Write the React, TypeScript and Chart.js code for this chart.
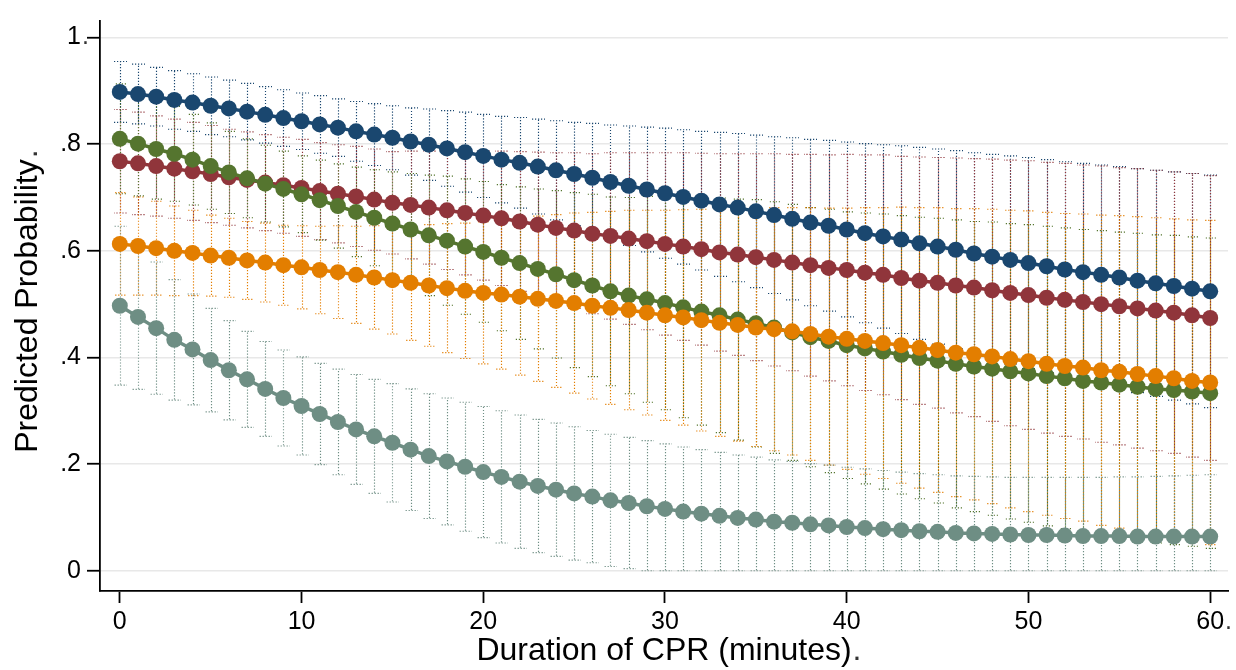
import React, { useEffect, useRef } from "react";
import { Chart, registerables } from "chart.js";

Chart.register(...registerables);

// Duration of CPR (minutes), x categories
const minutes = [
  0, 1, 2, 3, 4, 5, 6, 7, 8, 9, 10, 11, 12, 13, 14, 15, 16, 17, 18, 19, 20,
  21, 22, 23, 24, 25, 26, 27, 28, 29, 30, 31, 32, 33, 34, 35, 36, 37, 38, 39, 40,
  41, 42, 43, 44, 45, 46, 47, 48, 49, 50, 51, 52, 53, 54, 55, 56, 57, 58, 59, 60,
];

// Predicted probabilities (margins) and 95% CI half-widths
const navyMean = [
  .898, .894, .889, .883, .878, .872, .867, .861, .855, .849,
  .843, .837, .831, .824, .818, .812, .805, .799, .792, .785,
  .778, .771, .765, .758, .751, .744, .737, .729, .722, .715,
  .708, .701, .694, .687, .681, .674, .667, .660, .653, .647,
  .640, .633, .627, .621, .614, .608, .602, .595, .589, .583,
  .577, .571, .565, .560, .555, .550, .544, .539, .534, .529, .524,
];
const navyCI = [
  .057, .056, .055, .055, .054, .054, .053, .053, .053, .053,
  .053, .054, .054, .056, .058, .060, .063, .067, .071, .075,
  .078, .081, .085, .089, .093, .097, .102, .107, .112, .117,
  .122, .126, .130, .135, .139, .143, .147, .152, .156, .160,
  .164, .168, .172, .176, .180, .183, .186, .189, .192, .195,
  .198, .200, .202, .204, .206, .208, .210, .212, .214, .216, .218,
];

const maroonMean = [
  .768, .764, .759, .754, .749, .744, .738, .733, .728, .723,
  .718, .712, .707, .702, .696, .690, .686, .681, .676, .671,
  .666, .661, .655, .649, .643, .638, .632, .628, .623, .618,
  .613, .608, .603, .597, .593, .588, .583, .578, .573, .568,
  .564, .559, .555, .549, .544, .540, .535, .531, .526, .521,
  .517, .512, .508, .504, .500, .496, .492, .488, .484, .479, .474,
];
const maroonCI = [
  .097, .096, .094, .093, .092, .091, .090, .090, .090, .090,
  .091, .091, .092, .094, .095, .096, .101, .106, .111, .116,
  .121, .126, .131, .136, .141, .146, .150, .156, .161, .166,
  .171, .176, .180, .185, .189, .194, .199, .203, .208, .212,
  .217, .221, .225, .228, .232, .235, .239, .242, .246, .249,
  .252, .254, .256, .257, .259, .260, .262, .263, .264, .266, .267,
];

const greenMean = [
  .810, .801, .791, .782, .771, .759, .747, .736, .726, .716,
  .706, .695, .684, .673, .662, .651, .640, .629, .619, .608,
  .598, .587, .577, .566, .556, .545, .535, .524, .516, .509,
  .502, .494, .486, .479, .471, .464, .456, .447, .438, .431,
  .423, .417, .411, .405, .399, .394, .388, .383, .379, .374,
  .370, .365, .361, .356, .353, .349, .345, .341, .339, .336, .333,
];
const greenCI = [
  .103, .098, .094, .089, .085, .081, .077, .074, .072, .071,
  .072, .075, .079, .084, .090, .097, .105, .113, .121, .127,
  .132, .137, .143, .150, .157, .164, .171, .177, .184, .193,
  .200, .207, .213, .220, .226, .232, .236, .240, .243, .247,
  .250, .254, .258, .261, .264, .267, .270, .272, .275, .277,
  .279, .281, .282, .284, .285, .286, .288, .289, .290, .290, .291,
];

const orangeMean = [
  .613, .609, .605, .600, .596, .591, .587, .582, .578, .573,
  .569, .564, .560, .555, .550, .545, .540, .535, .530, .525,
  .521, .518, .514, .510, .506, .502, .497, .493, .489, .484,
  .479, .475, .470, .465, .461, .456, .453, .449, .444, .439,
  .435, .431, .427, .423, .418, .414, .409, .406, .402, .397,
  .393, .388, .384, .381, .376, .373, .369, .365, .361, .356, .353,
];
const orangeCI = [
  .096, .092, .088, .084, .080, .076, .074, .073, .074, .075,
  .078, .082, .087, .091, .097, .101, .108, .114, .121, .127,
  .133, .140, .147, .155, .162, .169, .175, .181, .187, .192,
  .197, .202, .208, .213, .218, .223, .228, .232, .237, .241,
  .245, .250, .254, .259, .263, .267, .270, .273, .276, .279,
  .282, .284, .286, .288, .291, .293, .295, .297, .299, .302, .304,
];

const tealMean = [
  .497, .476, .455, .433, .415, .395, .376, .359, .341, .324,
  .309, .294, .279, .265, .252, .240, .227, .215, .205, .195,
  .185, .176, .167, .159, .152, .145, .139, .132, .127, .121,
  .116, .111, .107, .103, .099, .096, .092, .090, .087, .085,
  .082, .080, .078, .076, .074, .073, .071, .070, .069, .068,
  .067, .067, .066, .065, .065, .065, .064, .064, .064, .064, .064,
];
const tealCI = [
  .149, .136, .124, .113, .104, .097, .093, .090, .089, .090,
  .092, .095, .099, .103, .107, .111, .114, .117, .119, .121,
  .123, .124, .125, .125, .125, .125, .124, .124, .123, .123,
  .122, .121, .120, .119, .118, .117, .116, .115, .114, .113,
  .112, .111, .110, .109, .108, .107, .107, .107, .107, .107,
  .108, .108, .109, .110, .110, .111, .112, .113, .114, .115, .116,
];

const xTickValues = [0, 10, 20, 30, 40, 50, 60];
const yTickValues = [0, 0.2, 0.4, 0.6, 0.8, 1];
const yTickLabels = ["0", ".2", ".4", ".6", ".8", "1"];
const xTitle = "Duration of CPR (minutes)";
const yTitle = "Predicted Probability";

const series = [
  { name: "Group 1", color: "#1a476f", mean: navyMean, ci: navyCI, order: 5 },
  { name: "Group 2", color: "#90353b", mean: maroonMean, ci: maroonCI, order: 4 },
  { name: "Group 3", color: "#55752f", mean: greenMean, ci: greenCI, order: 3 },
  { name: "Group 4", color: "#e37e00", mean: orangeMean, ci: orangeCI, order: 2 },
  { name: "Group 5", color: "#6e8e84", mean: tealMean, ci: tealCI, order: 1 },
];

const FONT = "'Liberation Sans', Arial, Helvetica, sans-serif";

const ciPlugin = {
  id: "ciBars",
  beforeDatasetsDraw(chart: any) {
    const { ctx, chartArea, scales } = chart;
    const xs = scales.x;
    const ys = scales.y;
    ctx.save();
    ctx.beginPath();
    ctx.rect(chartArea.left, chartArea.top, chartArea.right - chartArea.left, chartArea.bottom - chartArea.top);
    ctx.clip();
    ctx.lineWidth = 1.15;
    ctx.setLineDash([1.2, 1.8]);
    const capHalf = 6.5;
    series.forEach((s, k) => {
      ctx.strokeStyle = s.color;
      ctx.lineDashOffset = k * 0.6;
      for (let i = 0; i < minutes.length; i++) {
        const xp = Math.round(xs.getPixelForValue(minutes[i])) + 0.5;
        const lo = Math.max(0, s.mean[i] - s.ci[i]);
        const hi = s.mean[i] + s.ci[i];
        const yl = ys.getPixelForValue(lo);
        const yh = ys.getPixelForValue(hi);
        ctx.beginPath();
        ctx.moveTo(xp, yl);
        ctx.lineTo(xp, yh);
        ctx.stroke();
        ctx.beginPath();
        ctx.moveTo(xp - capHalf, yl);
        ctx.lineTo(xp + capHalf, yl);
        ctx.moveTo(xp - capHalf, yh);
        ctx.lineTo(xp + capHalf, yh);
        ctx.stroke();
      }
    });
    ctx.restore();
  },
};

const periodPlugin = {
  id: "trailingPeriods",
  afterDraw(chart: any) {
    const { ctx, scales } = chart;
    const xs = scales.x;
    const ys = scales.y;
    ctx.save();
    ctx.fillStyle = "#333";
    const yItems = ys.getLabelItems ? ys.getLabelItems() : [];
    for (const it of yItems) {
      if (it.label === "1") {
        ctx.font = it.font.string;
        ctx.textAlign = "left";
        ctx.textBaseline = it.options.textBaseline;
        const [tx, ty] = it.options.translation;
        ctx.fillText(".", tx + 1, ty + it.textOffset);
      }
    }
    const xItems = xs.getLabelItems ? xs.getLabelItems() : [];
    for (const it of xItems) {
      if (it.label === "60") {
        ctx.font = it.font.string;
        ctx.textAlign = "left";
        ctx.textBaseline = it.options.textBaseline;
        const [tx, ty] = it.options.translation;
        const w = ctx.measureText("60").width;
        ctx.fillText(".", tx + w / 2 + 1, ty + it.textOffset);
      }
    }
    ctx.font = `32px ${FONT}`;
    ctx.textBaseline = "middle";
    ctx.textAlign = "left";
    const lh = 32 * 1.2;
    const wx = ctx.measureText(xTitle).width;
    const cx = (xs.left + xs.right) / 2;
    const cy = xs.bottom - lh / 2;
    ctx.fillText(".", cx + wx / 2 + 1, cy);
    const wy = ctx.measureText(yTitle).width;
    const tX = ys.left + lh / 2 + 9;
    const tY = (ys.top + ys.bottom) / 2;
    ctx.translate(tX, tY - wy / 2 - 1);
    ctx.rotate(-Math.PI / 2);
    ctx.fillText(".", 0, 0);
    ctx.restore();
  },
};

export default function App() {
  const ref = useRef<HTMLCanvasElement | null>(null);

  useEffect(() => {
    document.body.style.margin = "0";
    document.body.style.background = "#ffffff";
    const canvas = ref.current;
    if (!canvas) return;
    Chart.defaults.font.family = FONT;

    const chart = new Chart(canvas, {
      type: "line",
      data: {
        datasets: series.map((s) => ({
          label: s.name,
          data: minutes.map((m, i) => ({ x: m, y: s.mean[i] })),
          borderColor: s.color,
          backgroundColor: s.color,
          borderWidth: 3.5,
          pointRadius: 8,
          pointHoverRadius: 8,
          pointBorderWidth: 0,
          pointBackgroundColor: s.color,
          pointBorderColor: s.color,
          tension: 0,
          fill: false,
          order: s.order,
        })),
      },
      options: {
        responsive: false,
        animation: false,
        devicePixelRatio: 1,
        events: [],
        layout: { padding: { top: 4, left: 0, right: 0, bottom: 0 } },
        plugins: {
          legend: { display: false },
          tooltip: { enabled: false },
        },
        scales: {
          x: {
            type: "linear",
            min: -1.09,
            max: 60.98,
            afterBuildTicks: (s: any) => {
              s.ticks = xTickValues.map((v) => ({ value: v }));
            },
            afterFit: (s: any) => {
              s.height = 79;
            },
            ticks: {
              font: { size: 25 },
              color: "#000",
              padding: 4,
              maxRotation: 0,
              autoSkip: false,
              callback: (v: any) => String(v),
            },
            grid: {
              drawOnChartArea: false,
              drawTicks: true,
              tickLength: 12,
              tickColor: "#000",
              tickWidth: 1.8,
            },
            border: { display: true, color: "#000", width: 1.8 },
            title: {
              display: true,
              text: xTitle,
              font: { size: 32 },
              color: "#000",
              padding: { top: 0, bottom: 0 },
            },
          },
          y: {
            type: "linear",
            min: -0.038,
            max: 1.031,
            afterBuildTicks: (s: any) => {
              s.ticks = yTickValues.map((v) => ({ value: v }));
            },
            afterFit: (s: any) => {
              s.width = 100;
            },
            ticks: {
              font: { size: 25 },
              color: "#000",
              padding: 6,
              callback: (v: any) => {
                const k = yTickValues.indexOf(v);
                return k >= 0 ? yTickLabels[k] : "";
              },
            },
            grid: {
              color: "#e8e8e8",
              lineWidth: 1.5,
              drawTicks: true,
              tickLength: 13,
              tickColor: "#000",
              tickWidth: 1.8,
            },
            border: { display: true, color: "#000", width: 1.8 },
            title: {
              display: true,
              text: yTitle,
              font: { size: 32 },
              color: "#000",
              padding: { top: 9, bottom: 0 },
            },
          },
        },
      } as any,
      plugins: [ciPlugin, periodPlugin],
    });

    return () => {
      chart.destroy();
    };
  }, []);

  return (
    <canvas
      ref={ref}
      width={1236}
      height={670}
      style={{ display: "block", width: 1236, height: 670 }}
    />
  );
}
